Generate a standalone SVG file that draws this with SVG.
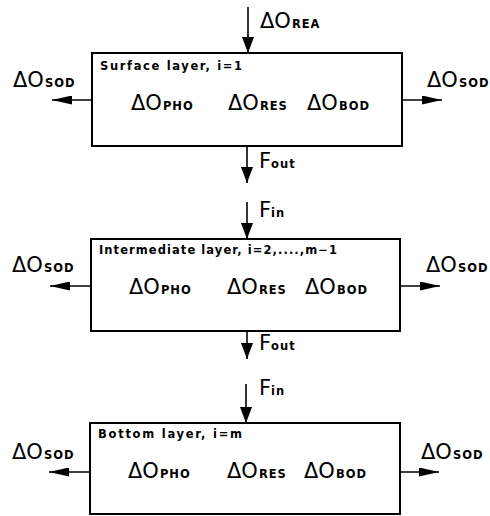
<svg xmlns="http://www.w3.org/2000/svg" width="490" height="516" viewBox="0 0 490 516">
  <style>
    .box { fill: #fff; stroke: #000; stroke-width: 2; }
    .flow { stroke: #000; stroke-width: 1.6; fill: none; }
    .v { marker-end: url(#headV); }
    .h { marker-end: url(#headH); }
    text { font-family: "DejaVu Sans", "Liberation Sans", sans-serif; fill: #000; }
    .title { font-size: 11.5px; font-weight: bold; }
    .big { font-size: 21px; }
    .sub { font-size: 11.5px; font-weight: bold; letter-spacing: 1px; }
  </style>
  <defs>
    <marker id="headV" viewBox="0 0 16 12" refX="16" refY="6" markerWidth="16" markerHeight="12" markerUnits="userSpaceOnUse" orient="auto">
      <path d="M0,0 L16,6 L0,12 z" fill="#000"/>
    </marker>
    <marker id="headH" viewBox="0 0 20 9" refX="20" refY="4.5" markerWidth="20" markerHeight="9" markerUnits="userSpaceOnUse" orient="auto">
      <path d="M0,0 L20,4.5 L0,9 z" fill="#000"/>
    </marker>
  </defs>
  <rect width="490" height="516" fill="#fff"/>

  <!-- connectors -->
  <g id="connectors">
    <line class="flow v" x1="248" y1="7" x2="248" y2="53"/>
    <line class="flow h" x1="92" y1="100" x2="52" y2="100"/>
    <line class="flow h" x1="402" y1="100" x2="442" y2="100"/>
    <line class="flow v" x1="247" y1="146" x2="247" y2="183"/>

    <line class="flow v" x1="247" y1="202" x2="247" y2="239"/>
    <line class="flow h" x1="91" y1="286" x2="50" y2="286"/>
    <line class="flow h" x1="400" y1="286" x2="440" y2="286"/>
    <line class="flow v" x1="247" y1="331" x2="247" y2="359"/>

    <line class="flow v" x1="246" y1="384" x2="246" y2="423"/>
    <line class="flow h" x1="90" y1="472" x2="49" y2="472"/>
    <line class="flow h" x1="400" y1="472" x2="439" y2="472"/>
  </g>

  <!-- flux labels -->
  <g id="labels">
    <text x="260" y="28"><tspan class="big">ΔO</tspan><tspan class="sub" dx="1">REA</tspan></text>
    <text x="13" y="87"><tspan class="big">ΔO</tspan><tspan class="sub" dx="1">SOD</tspan></text>
    <text x="427" y="87"><tspan class="big">ΔO</tspan><tspan class="sub" dx="1">SOD</tspan></text>
    <text x="259" y="168"><tspan class="big">F</tspan><tspan class="sub">out</tspan></text>

    <text x="259" y="217"><tspan class="big">F</tspan><tspan class="sub">in</tspan></text>
    <text x="12" y="272"><tspan class="big">ΔO</tspan><tspan class="sub" dx="1">SOD</tspan></text>
    <text x="426" y="272"><tspan class="big">ΔO</tspan><tspan class="sub" dx="1">SOD</tspan></text>
    <text x="259" y="350"><tspan class="big">F</tspan><tspan class="sub">out</tspan></text>

    <text x="259" y="395"><tspan class="big">F</tspan><tspan class="sub">in</tspan></text>
    <text x="12" y="459"><tspan class="big">ΔO</tspan><tspan class="sub" dx="1">SOD</tspan></text>
    <text x="421" y="459"><tspan class="big">ΔO</tspan><tspan class="sub" dx="1">SOD</tspan></text>
  </g>

  <!-- surface layer -->
  <g id="surface-layer">
    <rect class="box" x="92" y="53" width="310" height="93"/>
    <text class="title" x="100" y="70" textLength="142">Surface layer, i=1</text>
    <text x="131" y="110"><tspan class="big">ΔO</tspan><tspan class="sub" dx="1">PHO</tspan></text>
    <text x="228" y="110"><tspan class="big">ΔO</tspan><tspan class="sub" dx="1">RES</tspan></text>
    <text x="307" y="110"><tspan class="big">ΔO</tspan><tspan class="sub" dx="1">BOD</tspan></text>
  </g>

  <!-- intermediate layer -->
  <g id="intermediate-layer">
    <rect class="box" x="91" y="239" width="309" height="92"/>
    <text class="title" x="99" y="254" textLength="238">Intermediate layer, i=2,....,m−1</text>
    <text x="129" y="294"><tspan class="big">ΔO</tspan><tspan class="sub" dx="1">PHO</tspan></text>
    <text x="227" y="294"><tspan class="big">ΔO</tspan><tspan class="sub" dx="1">RES</tspan></text>
    <text x="305" y="294"><tspan class="big">ΔO</tspan><tspan class="sub" dx="1">BOD</tspan></text>
  </g>

  <!-- bottom layer -->
  <g id="bottom-layer">
    <rect class="box" x="90" y="423" width="310" height="91"/>
    <text class="title" x="98" y="438" textLength="144">Bottom layer, i=m</text>
    <text x="128" y="478"><tspan class="big">ΔO</tspan><tspan class="sub" dx="1">PHO</tspan></text>
    <text x="227" y="478"><tspan class="big">ΔO</tspan><tspan class="sub" dx="1">RES</tspan></text>
    <text x="304" y="478"><tspan class="big">ΔO</tspan><tspan class="sub" dx="1">BOD</tspan></text>
  </g>
</svg>
